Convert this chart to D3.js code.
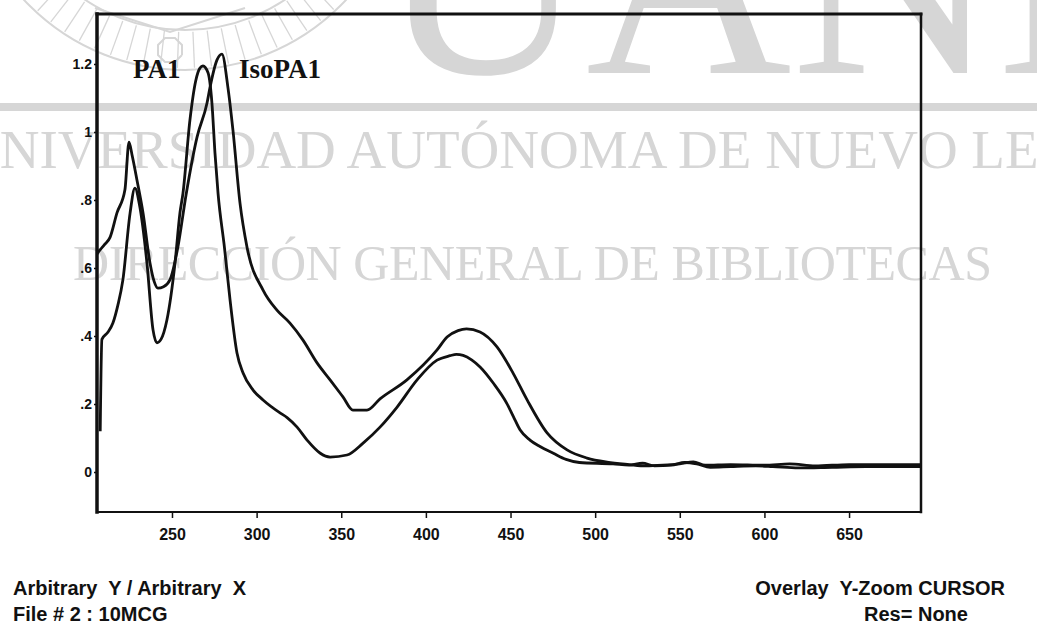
<!DOCTYPE html>
<html>
<head>
<meta charset="utf-8">
<script src="https://cdn.jsdelivr.net/npm/d3@7"></script>
<style>
    body { margin: 0; background: #fff; }
    svg { display: block; }
    .keep-spaces { white-space: pre; }
</style>
</head>
<body>
<svg id="chart"></svg>
<script>
// wavelength ticks and absorbance ticks
const xTicks = [250, 300, 350, 400, 450, 500, 550, 600, 650];
const yTicks = [0, 0.2, 0.4, 0.6, 0.8, 1, 1.2];
const yTickLabels = ["0", ".2", ".4", ".6", ".8", "1", "1.2"];

// PA1 spectrum [nm, abs]
const pa1 = [
    [207.6, 0.12], [208.6, 0.39], [212, 0.41], [215.1, 0.438], [218, 0.49], [221, 0.565],
    [225.2, 0.76], [228.1, 0.835], [231, 0.78], [235.2, 0.615], [238.8, 0.418], [241.1, 0.38],
    [243.5, 0.39], [247, 0.447], [251.8, 0.615], [254.7, 0.762], [256.5, 0.82], [260.6, 1.035],
    [264, 1.15], [266.5, 1.188], [268.3, 1.194], [271.3, 1.174], [273.6, 1.085], [275.4, 0.938],
    [277.2, 0.82], [281, 0.66], [284.3, 0.506], [288.4, 0.35], [292, 0.291], [297.9, 0.241],
    [303.8, 0.212], [313.8, 0.174], [318, 0.16], [323.9, 0.132], [329.8, 0.094], [337.4, 0.056],
    [343.4, 0.044], [353.4, 0.05], [362.9, 0.085], [372.9, 0.132], [383, 0.191], [394.8, 0.271],
    [406.6, 0.329], [414.3, 0.342], [418, 0.346], [422, 0.343], [427, 0.33], [432, 0.309],
    [439.9, 0.261], [447.8, 0.202], [451.7, 0.163], [455.6, 0.124], [461.5, 0.094], [467.4, 0.075],
    [475.3, 0.055], [482.8, 0.037], [490.7, 0.028], [510.6, 0.024],
    [520, 0.02], [528, 0.026], [535, 0.018], [545, 0.02], [553, 0.028], [560, 0.024],
    [568, 0.014], [580, 0.016], [595, 0.018], [605, 0.016], [620, 0.012], [640, 0.014],
    [660, 0.016], [692.5, 0.016]
];

// IsoPA1 spectrum [nm, abs]
const isoPa1 = [
    [205.7, 0.641], [207.5, 0.653], [210, 0.668], [213.4, 0.69], [217.5, 0.762], [222.2, 0.83],
    [224.6, 0.97], [226.5, 0.93], [229.3, 0.859], [232.9, 0.762], [237, 0.615], [239.5, 0.56],
    [241.7, 0.541], [245, 0.545], [248.8, 0.565], [253.5, 0.662], [258.3, 0.815], [264.8, 0.985],
    [270.7, 1.085], [272.5, 1.132], [276.6, 1.212], [279.5, 1.229], [283.1, 1.129], [286, 1.006],
    [290.2, 0.79], [294.3, 0.662], [303.8, 0.535], [312, 0.476], [319.7, 0.438], [327.4, 0.388],
    [335.7, 0.321], [343.4, 0.271], [351, 0.221], [356.9, 0.182], [365.2, 0.182], [372.9, 0.215],
    [388.8, 0.271], [406.6, 0.359], [412.5, 0.397], [419, 0.416], [424, 0.421], [432, 0.412],
    [442, 0.368], [451.5, 0.291], [459.8, 0.212], [471.6, 0.115], [483.4, 0.065], [495.2, 0.041],
    [507, 0.029], [520, 0.022], [530, 0.018], [540, 0.02], [550, 0.024], [558, 0.03],
    [565, 0.02], [580, 0.022], [600, 0.02], [615, 0.024], [630, 0.018], [650, 0.022],
    [692.5, 0.022]
];

const W = 1037, H = 624;
const frame = { left: 97, right: 921, top: 14, bottom: 512 };
const ink = "#111";
const wm = "#d6d6d6";

const svg = d3.select("#chart")
    .attr("width", W)
    .attr("height", H);

svg.append("rect").attr("width", W).attr("height", H).attr("fill", "#fff");

// --- library watermark (behind everything) ---
const mark = svg.append("g").attr("fill", "none").attr("stroke", wm);

// seal
const sealX = 185, sealY = -150;
mark.append("circle").attr("cx", sealX).attr("cy", sealY).attr("r", 220).attr("stroke-width", 2);
mark.append("circle").attr("cx", sealX).attr("cy", sealY).attr("r", 180).attr("stroke-width", 2);
d3.range(-70, 71, 4.5).forEach(a => {
    const t = (90 + a) * Math.PI / 180;
    mark.append("line")
        .attr("x1", sealX + 182 * Math.cos(t)).attr("y1", sealY + 182 * Math.sin(t))
        .attr("x2", sealX + 218 * Math.cos(t)).attr("y2", sealY + 218 * Math.sin(t))
        .attr("stroke-width", 1.3);
});
mark.append("polyline")
    .attr("points", "95,8 170,32 245,8")
    .attr("stroke-width", 2);
mark.append("path")
    .attr("d", d3.range(9).map((i) => {
        const t = i * Math.PI / 4 + Math.PI / 8;
        return (i ? "L" : "M") + (170 + 13 * Math.cos(t)) + "," + (50 + 13 * Math.sin(t));
    }).join(""))
    .attr("stroke-width", 2);

svg.append("text")
    .attr("x", 380).attr("y", 73)
    .attr("font-family", "'Liberation Serif', 'Times New Roman', serif")
    .attr("font-size", 285)
    .attr("fill", wm)
    .text("UANL");

svg.append("rect")
    .attr("x", 0).attr("y", 103).attr("width", W).attr("height", 8)
    .attr("fill", wm);

svg.append("text")
    .attr("x", -40).attr("y", 168)
    .attr("font-family", "'Liberation Serif', 'Times New Roman', serif")
    .attr("font-size", 55)
    .attr("fill", wm)
    .text("UNIVERSIDAD AUTÓNOMA DE NUEVO LEÓN");

svg.append("text")
    .attr("x", 73).attr("y", 280)
    .attr("font-family", "'Liberation Serif', 'Times New Roman', serif")
    .attr("font-size", 50)
    .attr("textLength", 919)
    .attr("fill", wm)
    .text("DIRECCIÓN GENERAL DE BIBLIOTECAS");

// --- scales ---
const x = d3.scaleLinear()
    .domain([205.7, 692.5])
    .range([frame.left, frame.right]);

const y = d3.scaleLinear()
    .domain([-0.1176, 1.347])
    .range([frame.bottom, frame.top]);

// --- curves ---
svg.append("clipPath").attr("id", "plot")
    .append("rect")
    .attr("x", frame.left).attr("y", frame.top)
    .attr("width", frame.right - frame.left)
    .attr("height", frame.bottom - frame.top);

const line = d3.line()
    .x(d => x(d[0]))
    .y(d => y(d[1]))
    .curve(d3.curveMonotoneX);

const curves = svg.append("g").attr("clip-path", "url(#plot)");

[pa1, isoPa1].forEach(s => {
    curves.append("path")
        .datum(s)
        .attr("d", line)
        .attr("fill", "none")
        .attr("stroke", ink)
        .attr("stroke-width", 2.8)
        .attr("stroke-linejoin", "round");
});

// --- axes ---
const axisX = d3.axisBottom(x)
    .tickValues(xTicks)
    .tickSize(6)
    .tickPadding(11)
    .tickSizeOuter(0);

const gx = svg.append("g")
    .attr("transform", "translate(0," + frame.bottom + ")")
    .call(axisX);
gx.select(".domain").remove();
gx.selectAll("line").attr("stroke", ink).attr("stroke-width", 1.5);
gx.selectAll("text")
    .attr("fill", ink)
    .style("font-family", "'Liberation Sans', Arial, sans-serif")
    .style("font-weight", "bold")
    .style("font-size", "16px");

const axisY = d3.axisLeft(y)
    .tickValues(yTicks)
    .tickFormat((d, i) => yTickLabels[i])
    .tickSize(3)
    .tickPadding(2)
    .tickSizeOuter(0);

const gy = svg.append("g")
    .attr("transform", "translate(" + frame.left + ",0)")
    .call(axisY);
gy.select(".domain").remove();
gy.selectAll("line").attr("stroke", ink).attr("stroke-width", 1.5);
gy.selectAll("text")
    .attr("fill", ink)
    .style("font-family", "'Liberation Sans', Arial, sans-serif")
    .style("font-weight", "bold")
    .style("font-size", "14px");

// frame: heavy left/top, lighter right/bottom
const box = svg.append("g").attr("stroke", ink).attr("stroke-linecap", "square");
box.append("line").attr("x1", frame.left).attr("x2", frame.left)
    .attr("y1", frame.top).attr("y2", frame.bottom).attr("stroke-width", 3.5);
box.append("line").attr("x1", frame.left).attr("x2", frame.right)
    .attr("y1", frame.top).attr("y2", frame.top).attr("stroke-width", 3);
box.append("line").attr("x1", frame.right).attr("x2", frame.right)
    .attr("y1", frame.top).attr("y2", frame.bottom).attr("stroke-width", 2.5);
box.append("line").attr("x1", frame.left).attr("x2", frame.right)
    .attr("y1", frame.bottom).attr("y2", frame.bottom).attr("stroke-width", 2);

// --- series labels ---
const serif = "'Liberation Serif', 'Times New Roman', serif";
svg.append("text")
    .attr("x", 133).attr("y", 78)
    .attr("font-family", serif).attr("font-weight", "bold").attr("font-size", 27)
    .attr("fill", ink)
    .text("PA1");
svg.append("text")
    .attr("x", 239).attr("y", 78)
    .attr("font-family", serif).attr("font-weight", "bold").attr("font-size", 27)
    .attr("fill", ink)
    .text("IsoPA1");

// --- footer ---
const sans = "'Liberation Sans', Arial, sans-serif";
const footer = [
    { t: "Arbitrary  Y / Arbitrary  X", x: 13, y: 595, anchor: "start" },
    { t: "File # 2 : 10MCG", x: 13, y: 621, anchor: "start" },
    { t: "Overlay  Y-Zoom CURSOR", x: 1005, y: 595, anchor: "end" },
    { t: "Res= None", x: 916, y: 621, anchor: "middle" }
];
svg.append("g")
    .selectAll("text")
    .data(footer).enter()
    .append("text")
    .attr("class", "keep-spaces")
    .attr("x", d => d.x)
    .attr("y", d => d.y)
    .attr("text-anchor", d => d.anchor)
    .attr("font-family", sans)
    .attr("font-weight", "bold")
    .attr("font-size", 20)
    .attr("fill", ink)
    .text(d => d.t);
</script>
</body>
</html>
